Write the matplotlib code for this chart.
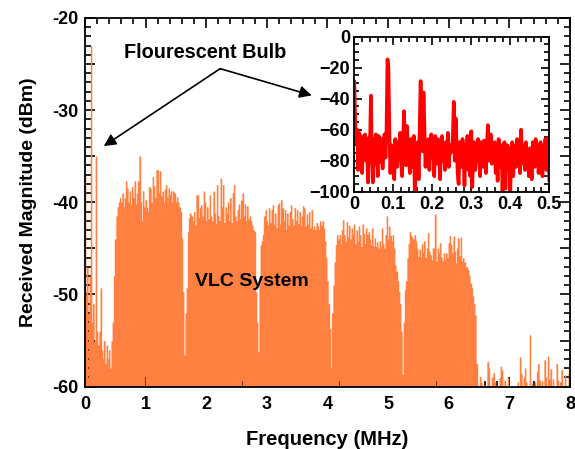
import numpy as np
import matplotlib
matplotlib.use("Agg")
import matplotlib.pyplot as plt
from matplotlib.ticker import MultipleLocator, FuncFormatter

plt.rcParams['font.family'] = ['Liberation Sans', 'DejaVu Sans']
plt.rcParams['font.weight'] = 'bold'

# received spectrum, one value every 0.02 MHz (dBm)
mag_0to1 = [-37, -50, -47, -52, -48, -23, -53, -51, -55, -35,
            -54, -55.5, -54, -49.3, -56, -57, -55, -57.5, -55.5, -57,
            -56, -58, -55, -53, -48, -44, -41.5, -40.5, -40, -39.5,
            -40, -39, -40.5, -39.5, -37.7, -38.5, -40, -38.8, -40.3, -38.3,
            -39.5, -37.7, -40.2, -39, -37.7, -35, -40, -42, -38.8, -40.5]
mag_1to2 = [-39.7, -40.6, -41, -38.3, -38.5, -40, -37.2, -38.2, -39.5, -36.5,
            -36.5, -39, -36.6, -39.3, -38.8, -40, -38.6, -38.1, -39.5, -38.5,
            -39.2, -38.8, -40, -38.8, -39, -40, -39.4, -40, -40.5, -41,
            -43.9, -49.7, -56.6, -52, -49.3, -43.2, -41.7, -41.2, -41.5, -42,
            -41, -42.5, -39.2, -39.2, -41.7, -40.6, -40.3, -41.5, -38.8, -40]
mag_2to3 = [-42, -40.5, -41.8, -39.2, -41.5, -42, -38.8, -41.2, -42.3, -38.1,
            -41.5, -42, -37.4, -40.5, -38.1, -42.2, -40.5, -41.2, -40, -42,
            -39.5, -42.2, -39, -38.1, -41.5, -42, -40.8, -40.2, -41.8, -39.8,
            -39, -41.5, -40.2, -42, -40.4, -41.8, -41.5, -42, -42.5, -43,
            -43.2, -49.7, -53, -56.2, -48.6, -44.6, -44.2, -43.5, -41.5, -40.8]
mag_3to4 = [-42, -42.5, -40.6, -42.2, -40.8, -40.3, -42.4, -41.2, -42.8, -40.3,
            -40.1, -42.4, -39.7, -40.6, -42, -40.8, -43, -41.2, -42.5, -41,
            -40.3, -41.8, -42.5, -40.6, -42, -40.8, -42.3, -41, -42.6, -41.5,
            -40.4, -40.6, -42.6, -41.3, -42.4, -41, -42.8, -40.8, -43, -42.6,
            -43, -42.2, -42.6, -43, -42, -42.5, -42, -42.8, -44.2, -46]
mag_4to5 = [-48.5, -51, -53.7, -58, -52, -49, -46.5, -44.6, -43.5, -44,
            -43.5, -44.5, -43, -41.9, -43.5, -44.2, -42.1, -43.8, -42.5, -44,
            -42.8, -43.5, -42.4, -44.5, -43, -44.2, -42.6, -43.5, -44.8, -42.4,
            -43.4, -44.5, -42.8, -43.5, -43.2, -44, -44.6, -42.8, -44.8, -43.9,
            -44.8, -44.3, -45, -44.2, -44.8, -42.8, -44.5, -45, -43.5, -41.5]
mag_5to6 = [-44, -42.6, -43.6, -44.2, -43.5, -45, -46.8, -47.5, -48.5, -49.7,
            -51, -54, -58.7, -53, -49.5, -48.5, -46, -44.5, -43.2, -43.6,
            -43.8, -44, -43.5, -44.2, -45, -45.9, -45.1, -46, -44.5, -45.5,
            -44.2, -46, -45, -43.3, -45.3, -45.7, -46.3, -45, -45, -41.3,
            -46.4, -45, -45.5, -44.4, -45.9, -46.4, -45.5, -46.3, -45.5, -46]
mag_6to7 = [-44.4, -43.6, -44.6, -45.5, -43.7, -45.3, -46.6, -45, -43.9, -45.8,
            -43.8, -46.4, -46, -46.5, -47, -47, -47.3, -47.9, -48.8, -49.3,
            -50.2, -51, -52.2, -57.5, -60, -60, -58.9, -59.5, -60, -60,
            -60, -60, -57.3, -58, -60, -60, -59, -58.5, -59.5, -60,
            -60, -60, -59, -57.8, -58.2, -60, -59.3, -60, -60, -59.1]
mag_7to8 = [-60, -60, -60, -60, -60, -60, -60, -59.5, -60, -56.8,
            -58.6, -60, -59, -58, -59.5, -60, -60, -54.4, -60, -59.6,
            -60, -59.5, -60, -58.4, -57.5, -59.3, -60, -59.4, -60, -57.1,
            -59, -60, -56.7, -59.2, -58.1, -60, -59.2, -60, -60, -57.5,
            -59.3, -60, -59.5, -58.2, -60, -60, -58.7, -60, -60, -58.5,
            -59]

# inset: fluorescent bulb spectrum, one value every 0.0025 MHz (dBm)
bulb = [-29, -56, -68, -60, -86, -62, -75, -64, -88, -66, -72, -63, -80, -70, -94, -65, -72, -38, -78, -94,
        -66, -82, -63, -76, -90, -64, -72, -81, -66, -85, -70, -63, -78, -60, -14.6, -20, -62, -88, -70, -80,
        -72, -92, -66, -76, -84, -68, -75, -62, -80, -90, -70, -48, -74, -83, -57.6, -70, -78, -88, -66, -84,
        -73, -64, -100, -76, -82, -68, -92, -62, -28.6, -58, -74, -36, -60, -84, -70, -80, -66, -86, -72, -63,
        -78, -68, -90, -64, -74, -82, -66, -76, -92, -70, -64, -80, -72, -86, -68, -78, -62, -84, -70, -75,
        -72, -66, -42, -80, -52.7, -70, -88, -95, -68, -78, -84, -66, -74, -96, -70, -80, -64, -86, -72, -90,
        -61, -97, -74, -68, -86, -70, -80, -66, -78, -90, -68, -76, -84, -67, -72, -88, -70, -57, -80, -74,
        -63, -82, -70, -76, -68, -88, -72, -93, -66, -78, -84, -70, -100, -74, -68, -98, -80, -70, -86, -72,
        -100, -74, -68, -90, -76, -70, -84, -66, -78, -72, -88, -60, -76, -82, -70, -86, -68, -78, -74, -90,
        -72, -80, -92, -68, -76, -84, -66, -78, -70, -88, -74, -68, -82, -90, -70, -76, -66, -86, -72, -65,
        -92.5]

mag = np.array(mag_0to1 + mag_1to2 + mag_2to3 + mag_3to4 +
               mag_4to5 + mag_5to6 + mag_6to7 + mag_7to8)
freq = np.arange(len(mag)) * 0.02
bulb = np.array(bulb)
bulb_f = np.arange(len(bulb)) * 0.0025

orange = '#ff8040'
fig = plt.figure(figsize=(5.75, 4.49), dpi=100)
ax = fig.add_axes([0.1478, 0.1388, 0.8435, 0.8212])
floor = -60
ax.fill_between(freq, mag, floor, step='mid', color=orange, linewidth=0)
ax.vlines(freq, floor, mag, color=orange, lw=1.0)
ax.set_xlim(0, 8)
ax.set_ylim(-60, -20)
ax.xaxis.set_major_locator(MultipleLocator(1))
ax.xaxis.set_minor_locator(MultipleLocator(0.2))
ax.yaxis.set_major_locator(MultipleLocator(5))
ax.yaxis.set_minor_locator(MultipleLocator(1))
ax.yaxis.set_major_formatter(FuncFormatter(lambda v, p: '%d' % v if v % 10 == 0 else ''))
ax.tick_params(which='both', direction='in', top=True, right=True, width=1.2)
ax.tick_params(which='major', length=7, labelsize=13)
ax.tick_params(axis='x', which='major', pad=7)
ax.tick_params(axis='y', which='major', pad=5)
ax.tick_params(which='minor', length=4)
for s in ax.spines.values():
    s.set_linewidth(1.3)
ax.set_xlabel('Frequency (MHz)', fontsize=14.5, fontweight='bold', labelpad=12)
ax.set_ylabel('Received Magnitude (dBm)', fontsize=14, fontweight='bold', labelpad=11)

ax.text(1.98, -23.7, 'Flourescent Bulb', ha='center', va='center',
        fontsize=14.3, fontweight='bold')
ax.annotate('', xy=(0.31, -33.9), xytext=(2.23, -25.5),
            arrowprops=dict(arrowstyle='-|>', color='black', lw=1.2,
                            mutation_scale=18, shrinkA=0, shrinkB=0))
ax.annotate('', xy=(3.74, -28.4), xytext=(2.23, -25.5),
            arrowprops=dict(arrowstyle='-|>', color='black', lw=1.2,
                            mutation_scale=18, shrinkA=0, shrinkB=0))
ax.text(2.76, -48.6, 'VLC System', ha='center', va='center',
        fontsize=14, fontweight='bold')

# inset
ins = fig.add_axes([0.6162, 0.573, 0.3391, 0.3452])
ins.plot(bulb_f, bulb, color='#ff0000', lw=2.6)
ins.set_xlim(0, 0.5)
ins.set_ylim(-100, 0)
ins.xaxis.set_major_locator(MultipleLocator(0.1))
ins.xaxis.set_minor_locator(MultipleLocator(0.02))
ins.yaxis.set_major_locator(MultipleLocator(20))
ins.yaxis.set_minor_locator(MultipleLocator(5))
ins.xaxis.set_major_formatter(FuncFormatter(lambda v, p: '0' if abs(v) < 1e-9 else ('%.1f' % v)))
ins.tick_params(which='both', direction='in', top=True, right=True, width=1.2)
ins.tick_params(which='major', length=6, labelsize=13, pad=3)
ins.tick_params(which='minor', length=3.5)
for s in ins.spines.values():
    s.set_linewidth(1.3)

fig.savefig('out.png', dpi=100)
